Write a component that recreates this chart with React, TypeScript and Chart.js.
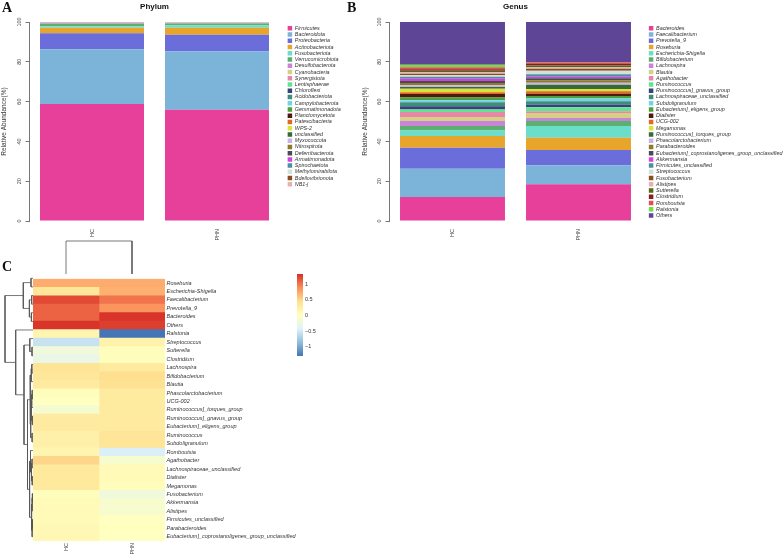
import React, { useEffect, useRef } from "react";
import { Chart, registerables } from "chart.js";
Chart.register(...registerables);

const FONT = "'Liberation Sans', Arial, Helvetica, sans-serif";
Chart.defaults.font.family = FONT;
Chart.defaults.color = "#333";

// ---------- data ----------
const samples = ["HC", "PHN"];

const phylumNames = [
  "Firmicutes", "Bacteroidota", "Proteobacteria", "Actinobacteriota", "Fusobacteriota",
  "Verrucomicrobiota", "Desulfobacterota", "Cyanobacteria", "Synergistota", "Lentisphaerae",
  "Chloroflexi", "Acidobacteriota", "Campylobacterota", "Gemmatimonadota", "Planctomycetota",
  "Patescibacteria", "WPS-2", "unclassified", "Myxococcota", "Nitrospirota",
  "Deferribacterota", "Armatimonadota", "Spirochaetota", "Methylomirabilota", "Bdellovibrionota", "NB1-j",
];
const phylumHC = [58.8, 27.5, 8.0, 2.8, 0.8, 1.1, 0.35, 0.2, 0.12, 0.08, 0.05, 0.04, 0.03, 0.02, 0.02, 0.02, 0.01, 0.02, 0.01, 0.01, 0.01, 0.005, 0.005, 0.005, 0.003, 0.002];
const phylumPHN = [55.9, 29.4, 8.3, 3.5, 1.3, 0.7, 0.45, 0.15, 0.08, 0.05, 0.02, 0.02, 0.02, 0.01, 0.01, 0.01, 0.01, 0.01, 0.01, 0.01, 0.01, 0.005, 0.005, 0.005, 0.003, 0.002];

const palette = [
  "#E7409A", "#7BB3D9", "#6B6DDB", "#E8A52B", "#6ADDCB", "#5BAF6F", "#C884D9", "#D6CF86",
  "#E687A8", "#5EE58F", "#3A4079", "#3C8D7C", "#6FD3E9", "#4CA23A", "#4D1A12", "#E2691F",
  "#D9E43A", "#356B39", "#C9B3E3", "#8C7B2A", "#4B4A4E", "#D63FE6", "#4D8EA2", "#D2E0DA",
  "#8E4C1C", "#E6B1B3", "#4C6B19", "#8B1C1C", "#E54B5B", "#6CE23A", "#5E4595",
];

const genusNames = [
  "Bacteroides", "Faecalibacterium", "Prevotella_9", "Roseburia", "Escherichia-Shigella",
  "Bifidobacterium", "Lachnospira", "Blautia", "Agathobacter", "Ruminococcus",
  "Ruminococcus]_gnavus_group", "Lachnospiraceae_unclassified", "Subdoligranulum", "Eubacterium]_eligens_group", "Dialister",
  "UCG-002", "Megamonas", "Ruminococcus]_torques_group", "Phascolarctobacterium", "Parabacteroides",
  "Eubacterium]_coprostanoligenes_group_unclassified", "Akkermansia", "Firmicutes_unclassified", "Streptococcus", "Fusobacterium",
  "Alistipes", "Sutterella", "Clostridium", "Romboutsia", "Ralstonia", "Others",
];
const genusHC = [12, 14.3, 10.5, 5.9, 2.8, 2.3, 2.5, 1.9, 2.6, 1.2, 1.7, 2.0, 1.0, 1.3, 1.8, 0.9, 1.8, 0.8, 0.9, 1.1, 1.0, 1.2, 1.0, 0.7, 0.8, 0.7, 0.8, 0.7, 1.0, 1.3, 21.5];
const genusPHN = [18.5, 9.5, 7.7, 6.1, 5.9, 2.5, 1.6, 2.5, 0.9, 2.0, 1.3, 1.7, 1.3, 1.3, 1.2, 1.2, 1.1, 2.2, 1.0, 1.2, 1.0, 0.8, 1.3, 1.7, 1.0, 0.7, 1.0, 1.0, 0.6, 0.1, 20.1];

const heatRows = [
  "Roseburia", "Escherichia-Shigella", "Faecalibacterium", "Prevotella_9", "Bacteroides", "Others",
  "Ralstonia", "Streptococcus", "Sutterella", "Clostridium", "Lachnospira", "Bifidobacterium",
  "Blautia", "Phascolarctobacterium", "UCG-002", "Ruminococcus]_torques_group", "Ruminococcus]_gnavus_group",
  "Eubacterium]_eligens_group", "Ruminococcus", "Subdoligranulum", "Romboutsia", "Agathobacter",
  "Lachnospiraceae_unclassified", "Dialister", "Megamonas", "Fusobacterium", "Akkermansia", "Alistipes",
  "Firmicutes_unclassified", "Parabacteroides", "Eubacterium]_coprostanoligenes_group_unclassified",
];
const heatHC = [0.72, 0.35, 1.2, 1.08, 1.08, 1.3, 0.15, -0.55, -0.2, -0.28, 0.4, 0.35, 0.3, 0.05, 0.0, -0.12, 0.3, 0.3, 0.22, 0.22, 0.15, 0.5, 0.33, 0.33, 0.33, 0.05, 0.08, 0.08, 0.08, 0.12, 0.12];
const heatPHN = [0.72, 0.7, 1.0, 0.85, 1.3, 1.25, -1.29, 0.2, 0.05, 0.05, 0.3, 0.45, 0.42, 0.3, 0.3, 0.3, 0.3, 0.3, 0.38, 0.38, -0.45, -0.1, 0.08, 0.08, 0.05, -0.2, -0.1, -0.1, 0.0, 0.02, 0.0];
const heatMin = -1.29;
const heatMax = 1.32;
const colorbarTicks = [-1, -0.5, 0, 0.5, 1];
const rdylbu = ["#4575B4", "#91BFDB", "#E0F3F8", "#FFFFBF", "#FEE090", "#FC8D59", "#D73027"];

// hclust-style merges: negative = leaf (1-based, display order), positive = earlier merge; third = height
const rowMerges: number[][] = [
  [-1, -2, 2], [-3, -4, 1.3], [-5, -6, 1.6], [2, 3, 3.6], [1, 4, 9.7],
  [-9, -10, 1.0], [-8, 6, 3.2], [-11, -12, 1.2], [8, -13, 1.8], [-14, -15, 0.8],
  [10, -16, 1.3], [-17, -18, 0.7], [11, 12, 1.8], [-19, -20, 0.9], [13, 14, 2.3],
  [9, 15, 3.0], [-22, -23, 1.0], [-24, -25, 0.8], [17, 18, 1.5], [-21, 19, 2.5],
  [-26, -27, 0.6], [21, -28, 0.9], [-29, -30, 0.6], [23, -31, 0.9], [22, 24, 1.4],
  [20, 25, 3.4], [16, 26, 5.5], [7, 27, 9.0], [-7, 28, 17.3], [5, 29, 28],
];
const colMerges: number[][] = [[-1, -2, 33]];

// ---------- helpers ----------
function hexToRgb(h: string) {
  const n = parseInt(h.slice(1), 16);
  return [(n >> 16) & 255, (n >> 8) & 255, n & 255];
}
function heatColor(z: number) {
  const n = rdylbu.length - 1;
  const t = Math.min(1, Math.max(0, (z - heatMin) / (heatMax - heatMin))) * n;
  const i = Math.min(Math.floor(t), n - 1);
  const f = t - i;
  const a = hexToRgb(rdylbu[i]);
  const b = hexToRgb(rdylbu[i + 1]);
  const c = a.map((v, k) => Math.round(v + (b[k] - v) * f));
  return `rgb(${c[0]},${c[1]},${c[2]})`;
}
function dendroLines(merges: number[][]) {
  const pos: number[] = [];
  const ht: number[] = [];
  const get = (k: number) => (k < 0 ? { p: -k - 0.5, h: 0 } : { p: pos[k - 1], h: ht[k - 1] });
  return merges.map(([a, b, h], i) => {
    const A = get(a);
    const B = get(b);
    pos[i] = (A.p + B.p) / 2;
    ht[i] = h;
    return [[A.p, A.h], [A.p, h], [B.p, h], [B.p, B.h]];
  });
}

type Geo = { padLeft: number; yWidth: number; gap: number; barPct: number };

function stackedConfig(title: string, names: string[], hc: number[], phn: number[], geo: Geo): any {
  return {
    type: "bar",
    data: {
      labels: samples,
      datasets: names.map((n, i) => ({
        label: n,
        data: [hc[i], phn[i]],
        backgroundColor: palette[i],
        borderWidth: 0,
        barPercentage: geo.barPct,
        categoryPercentage: 1,
      })),
    },
    options: {
      animation: false,
      responsive: false,
      events: [],
      layout: { padding: { left: geo.padLeft, right: 0, top: 0, bottom: 0 } },
      plugins: {
        title: {
          display: true, text: title, fullSize: false, color: "#111",
          font: { size: 8, weight: "bold" }, padding: { top: 1.5, bottom: 10.9 },
        },
        legend: {
          position: "right", align: "start", fullSize: false, maxWidth: 400,
          title: { display: true, text: " ", font: { size: 1.8, lineHeight: 1 }, padding: { top: 0, bottom: 1 } },
          labels: { boxWidth: 4.5, boxHeight: 4.5, padding: 0.84, color: "#333", font: { size: 5.4, style: "italic" } },
        },
        tooltip: { enabled: false },
      },
      scales: {
        x: {
          stacked: true,
          grid: { display: false, drawTicks: false },
          border: { display: false },
          ticks: { minRotation: 90, maxRotation: 90, padding: 8, font: { size: 5.5 }, color: "#444" },
          afterFit: (s: any) => { s.height = 24; },
        },
        y: {
          stacked: true, min: 0, max: 100,
          ticks: { stepSize: 20, minRotation: 90, maxRotation: 90, crossAlign: "center", padding: 1, font: { size: 5.5 }, color: "#444" },
          title: { display: true, text: "Relative Abundance(%)", font: { size: 6.5 }, color: "#333", padding: { top: 0, bottom: 0 } },
          grid: { drawOnChartArea: false, drawTicks: true, tickLength: 4, color: "#777" },
          border: { display: true, color: "#777", width: 1 },
          afterFit: (s: any) => { s.width = geo.yWidth; },
        },
        gap: {
          type: "linear", position: "right", display: true,
          grid: { display: false, drawTicks: false }, border: { display: false }, ticks: { display: false },
          afterFit: (s: any) => { s.width = geo.gap; },
        },
      },
    },
  };
}

function heatmapConfig(): any {
  const vals = [heatHC, heatPHN];
  return {
    type: "bar",
    data: {
      labels: heatRows,
      datasets: samples.map((s, si) => ({
        label: s,
        data: heatRows.map(() => [si, si + 1]),
        backgroundColor: vals[si].map(heatColor),
        borderWidth: 0,
        barPercentage: 1,
        categoryPercentage: 1,
        grouped: false,
      })),
    },
    options: {
      indexAxis: "y",
      animation: false,
      responsive: false,
      events: [],
      layout: { padding: { left: 33, top: 0, right: 0, bottom: 0 } },
      plugins: { legend: { display: false }, tooltip: { enabled: false } },
      scales: {
        x: { type: "linear", min: 0, max: samples.length, display: false },
        x2: {
          type: "category", labels: samples, position: "bottom", offset: true,
          grid: { display: false, drawTicks: false }, border: { display: false },
          ticks: { minRotation: 90, maxRotation: 90, padding: 2, font: { size: 5.5 }, color: "#444" },
          afterFit: (s: any) => { s.height = 14; },
        },
        y: {
          type: "category", position: "right", offset: true,
          grid: { display: false, drawTicks: false }, border: { display: false },
          ticks: { autoSkip: false, padding: 1.5, font: { size: 5.5, style: "italic" }, color: "#333" },
          afterFit: (s: any) => { s.width = 135; },
        },
      },
    },
  };
}

function colorbarConfig(): any {
  return {
    type: "bar",
    data: {
      labels: [""],
      datasets: [{
        data: [[heatMin, heatMax]],
        backgroundColor: (c: any) => {
          const ch = c.chart;
          if (!ch.chartArea) return rdylbu[3];
          const y0 = ch.scales.y.getPixelForValue(heatMin);
          const y1 = ch.scales.y.getPixelForValue(heatMax);
          const g = ch.ctx.createLinearGradient(0, y0, 0, y1);
          rdylbu.forEach((col, k) => g.addColorStop(k / (rdylbu.length - 1), col));
          return g;
        },
        borderWidth: 0,
        barPercentage: 1,
        categoryPercentage: 1,
      }],
    },
    options: {
      animation: false,
      responsive: false,
      events: [],
      layout: { padding: { left: 6, top: 10, bottom: 10, right: 0 } },
      plugins: { legend: { display: false }, tooltip: { enabled: false } },
      scales: {
        x: { display: false },
        y: {
          min: heatMin, max: heatMax, position: "right",
          grid: { display: false, drawTicks: false }, border: { display: false },
          afterBuildTicks: (s: any) => { s.ticks = colorbarTicks.map((v) => ({ value: v })); },
          ticks: {
            padding: 2, font: { size: 5.5 }, color: "#333",
            callback: (v: any) => (Number(v) < 0 ? "\u2212" + Math.abs(Number(v)) : String(v)),
          },
          afterFit: (s: any) => { s.width = 48; },
        },
      },
    },
  };
}

function dendroConfig(merges: number[][], horizontal: boolean, hMax: number, nLeaves: number): any {
  const lines = dendroLines(merges);
  return {
    type: "scatter",
    data: {
      datasets: lines.map((pts) => ({
        data: pts.map(([p, h]) => (horizontal ? { x: h, y: p } : { x: p, y: h })),
        showLine: true,
        borderColor: "#555",
        borderWidth: 0.8,
        pointRadius: 0,
        clip: false,
      })),
    },
    options: {
      animation: false,
      responsive: false,
      events: [],
      layout: { padding: 0 },
      plugins: { legend: { display: false }, tooltip: { enabled: false } },
      scales: horizontal
        ? {
            x: { type: "linear", reverse: true, min: 0, max: hMax, display: false },
            y: { type: "linear", reverse: true, min: 0, max: nLeaves, display: false },
          }
        : {
            x: { type: "linear", min: 0, max: nLeaves, display: false },
            y: { type: "linear", min: 0, max: hMax, display: false },
          },
    },
  };
}

function ChartBox(props: { left: number; top: number; width: number; height: number; make: () => any; targetRight?: number }) {
  const ref = useRef<HTMLCanvasElement>(null);
  useEffect(() => {
    const cfg = props.make();
    const ch = new Chart(ref.current as HTMLCanvasElement, cfg);
    if (props.targetRight !== undefined) {
      // shift the legend-side padding so the plot area ends where the reference has it
      const delta = ch.chartArea.right - props.targetRight;
      cfg.options.layout.padding.right += delta;
      ch.options.layout.padding = { ...cfg.options.layout.padding };
      ch.update();
    }
    return () => ch.destroy();
  }, []);
  return (
    <canvas
      ref={ref}
      width={props.width}
      height={props.height}
      style={{ position: "absolute", left: props.left, top: props.top, width: props.width, height: props.height }}
    />
  );
}

const panelLabel: React.CSSProperties = {
  position: "absolute",
  fontFamily: "'Liberation Serif', 'DejaVu Serif', serif",
  fontWeight: "bold",
  fontSize: 14,
  lineHeight: "14px",
  color: "#111",
};

export default function App() {
  return (
    <div style={{ position: "absolute", left: 0, top: 0, width: 784, height: 555, background: "#fff", overflow: "hidden" }}>
      <ChartBox left={0} top={0} width={375} height={245} targetRight={279.5}
        make={() => stackedConfig("Phylum", phylumNames, phylumHC, phylumPHN,
          { padLeft: 0, yWidth: 29.5, gap: 7.3, barPct: 0.832 })} />
      <ChartBox left={345} top={0} width={470} height={245} targetRight={296.5}
        make={() => stackedConfig("Genus", genusNames, genusHC, genusPHN,
          { padLeft: 16, yWidth: 28.5, gap: 6.5, barPct: 0.833 })} />
      <ChartBox left={0} top={274} width={300} height={281} make={heatmapConfig} />
      <ChartBox left={0} top={274} width={33} height={267} make={() => dendroConfig(rowMerges, true, 33, heatRows.length)} />
      <ChartBox left={33} top={236} width={132} height={38} make={() => dendroConfig(colMerges, false, 38, samples.length)} />
      <ChartBox left={291} top={264} width={60} height={102} make={colorbarConfig} />
      <div style={{ ...panelLabel, left: 2, top: 1 }}>A</div>
      <div style={{ ...panelLabel, left: 347, top: 1 }}>B</div>
      <div style={{ ...panelLabel, left: 2, top: 260 }}>C</div>
    </div>
  );
}
